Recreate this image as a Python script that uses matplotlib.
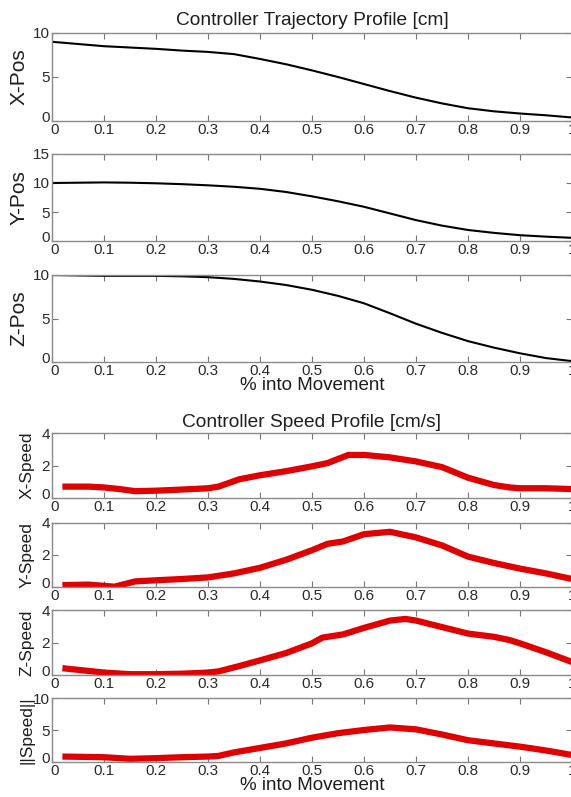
import matplotlib
matplotlib.use("Agg")
import matplotlib.pyplot as plt
import matplotlib.transforms as mtrans
import numpy as np

plt.rcParams['font.family'] = ['Liberation Sans', 'DejaVu Sans']

#---------------------------------------------------------------------------------#
# data

pos_x = [0, 0.05, 0.1, 0.15, 0.2, 0.25, 0.3, 0.35, 0.4, 0.45, 0.5,
         0.55, 0.6, 0.65, 0.7, 0.75, 0.8, 0.85, 0.9, 0.95, 1.0]
x_pos = [9.0, 8.75, 8.5, 8.35, 8.2, 8.0, 7.85, 7.6, 7.05, 6.45, 5.75,
         5.0, 4.2, 3.4, 2.65, 2.0, 1.45, 1.1, 0.85, 0.65, 0.4]
y_pos = [10.0, 10.05, 10.1, 10.05, 9.95, 9.8, 9.6, 9.35, 9.0, 8.45, 7.7,
         6.85, 5.9, 4.75, 3.6, 2.65, 1.9, 1.4, 1.0, 0.75, 0.55]
z_pos = [10.0, 9.95, 9.9, 9.9, 9.9, 9.85, 9.75, 9.55, 9.25, 8.85, 8.3,
         7.6, 6.75, 5.6, 4.4, 3.35, 2.4, 1.65, 1.0, 0.45, 0.1]

xs_x = [0.02, 0.07, 0.1, 0.13, 0.16, 0.2, 0.25, 0.3, 0.32, 0.36, 0.4, 0.45, 0.5, 0.53,
        0.57, 0.6, 0.65, 0.7, 0.75, 0.8, 0.85, 0.88, 0.9, 0.95, 1.0]
x_speed = [0.7, 0.7, 0.65, 0.55, 0.42, 0.45, 0.52, 0.6, 0.7, 1.15, 1.4, 1.65, 1.95, 2.15,
           2.65, 2.65, 2.5, 2.25, 1.9, 1.25, 0.8, 0.65, 0.6, 0.6, 0.55]

xs_y = [0.02, 0.07, 0.12, 0.16, 0.2, 0.25, 0.3, 0.35, 0.4, 0.45, 0.5, 0.53, 0.56,
        0.6, 0.65, 0.7, 0.75, 0.8, 0.85, 0.9, 0.95, 1.0]
y_speed = [0.12, 0.15, 0.02, 0.35, 0.42, 0.5, 0.6, 0.85, 1.2, 1.7, 2.3, 2.7, 2.85,
           3.3, 3.45, 3.1, 2.6, 1.9, 1.5, 1.15, 0.85, 0.5]

xs_z = [0.02, 0.1, 0.15, 0.2, 0.25, 0.3, 0.32, 0.36, 0.4, 0.45, 0.5, 0.52, 0.56,
        0.6, 0.65, 0.68, 0.7, 0.75, 0.8, 0.85, 0.88, 0.9, 0.95, 1.0]
z_speed = [0.42, 0.15, 0.05, 0.05, 0.08, 0.15, 0.22, 0.55, 0.9, 1.35, 1.95, 2.3, 2.5,
           2.9, 3.35, 3.45, 3.35, 2.95, 2.55, 2.35, 2.15, 1.95, 1.4, 0.8]

xs_n = [0.02, 0.1, 0.15, 0.2, 0.25, 0.3, 0.32, 0.35, 0.4, 0.45, 0.5, 0.55, 0.6,
        0.65, 0.7, 0.75, 0.8, 0.85, 0.9, 0.95, 1.0]
n_speed = [0.85, 0.75, 0.5, 0.6, 0.75, 0.85, 0.95, 1.5, 2.2, 2.9, 3.8, 4.5, 5.0,
           5.4, 5.1, 4.3, 3.4, 2.9, 2.4, 1.8, 1.1]

x_ticks = [0, 0.1, 0.2, 0.3, 0.4, 0.5, 0.6, 0.7, 0.8, 0.9, 1]
x_tick_labels = ['0', '0.1', '0.2', '0.3', '0.4', '0.5', '0.6', '0.7', '0.8', '0.9', '1']

#---------------------------------------------------------------------------------#

W, H = 571, 797
fig = plt.figure(figsize=(W / 100, H / 100), dpi=100)
TXT = '#1e1e1e'

def px_axes(top, bottom):
    # top / bottom in pixels from the top of the picture
    return fig.add_axes([52 / W, 1 - bottom / H, 520 / W, (bottom - top) / H])

def style(ax, ymax, yticks, ylabel, lab_x, lab_size):
    ax.set_xlim(0, 1)
    ax.set_ylim(0, ymax)
    ax.set_xticks(x_ticks)
    ax.set_xticklabels(x_tick_labels)
    ax.set_yticks(yticks)
    for s in ax.spines.values():
        s.set_color('#8a8a8a')
        s.set_linewidth(1.0)
    ax.tick_params(direction='in', top=True, right=True, length=4, width=0.8,
                   color='#777777', labelsize=11, labelcolor='#2a2a2a', pad=1.5)
    ax.set_ylabel(ylabel, fontsize=lab_size, color=TXT)
    ax.yaxis.set_label_coords(lab_x, 0.5)
    # matlab puts the y "0" a bit higher / the x "0" a bit to the right
    up = mtrans.ScaledTranslation(0, 3 / 72, fig.dpi_scale_trans)
    right = mtrans.ScaledTranslation(2 / 72, 0, fig.dpi_scale_trans)
    ylab0 = ax.get_yticklabels()[0]
    ylab0.set_transform(ylab0.get_transform() + up)
    xlab0 = ax.get_xticklabels()[0]
    xlab0.set_transform(xlab0.get_transform() + right)

#position plots
pos_lab = -0.046
ax1 = px_axes(33, 121)
ax1.plot(pos_x, x_pos, color='black', lw=1.5)
style(ax1, 10, [0, 5, 10], 'X-Pos', pos_lab, 15)
ax1.set_title('Controller Trajectory Profile [cm]', fontsize=13.8, color=TXT, pad=6)

ax2 = px_axes(154, 241)
ax2.plot(pos_x, y_pos, color='black', lw=1.5)
style(ax2, 15, [0, 5, 10, 15], 'Y-Pos', pos_lab, 15)

ax3 = px_axes(275, 362)
ax3.plot(pos_x, z_pos, color='black', lw=1.5)
style(ax3, 10, [0, 5, 10], 'Z-Pos', pos_lab, 15)
ax3.set_xlabel('% into Movement', fontsize=13.5, color=TXT, labelpad=-1)

#speed plots
spd_lab = -0.034
red = '#e00000'
ax4 = px_axes(433, 498)
ax4.plot(xs_x, x_speed, color=red, lw=4.5, solid_capstyle='butt')
style(ax4, 4, [0, 2, 4], 'X-Speed', spd_lab, 12.5)
ax4.set_title('Controller Speed Profile [cm/s]', fontsize=13.8, color=TXT, pad=4)

ax5 = px_axes(523, 587)
ax5.plot(xs_y, y_speed, color=red, lw=4.5, solid_capstyle='butt')
style(ax5, 4, [0, 2, 4], 'Y-Speed', spd_lab, 12.5)

ax6 = px_axes(610, 675)
ax6.plot(xs_z, z_speed, color=red, lw=4.5, solid_capstyle='butt')
style(ax6, 4, [0, 2, 4], 'Z-Speed', spd_lab, 12.5)

ax7 = px_axes(698, 762)
ax7.plot(xs_n, n_speed, color=red, lw=4.5, solid_capstyle='butt')
style(ax7, 10, [0, 5, 10], '||Speed||', spd_lab, 12.5)
ax7.set_xlabel('% into Movement', fontsize=13.5, color=TXT, labelpad=-1)

fig.savefig('out.png', dpi=100)
